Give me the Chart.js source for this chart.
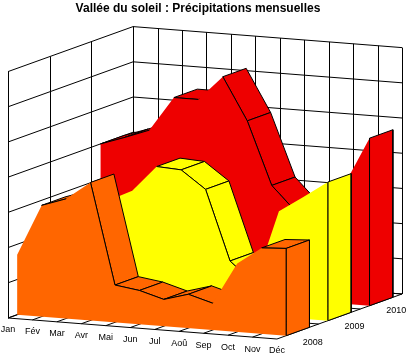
<!DOCTYPE html>
<html>
<head>
<meta charset="utf-8">
<title>Vallée du soleil</title>
<script src="https://cdn.jsdelivr.net/npm/chart.js@4"></script>
<style>
  html, body { margin: 0; padding: 0; background: #fff; }
  #box { position: relative; width: 406px; height: 355px; }
</style>
</head>
<body>
<div id="box"><canvas id="chart_area3d"></canvas></div>
<script>
// Monthly rainfall in mm, one list per year
const months = ['Jan', 'Fév', 'Mar', 'Avr', 'Mai', 'Jun', 'Jul', 'Aoû', 'Sep', 'Oct', 'Nov', 'Déc'];
const years = ['2008', '2009', '2010'];
const rain2008 = [85, 158, 170, 196, 53, 48, 38, 48, 38, 97, 122, 124];
const rain2009 = [100, 120, 146, 163, 200, 198, 173, 74, 44, 150, 173, 197];
const rain2010 = [200, 212, 225, 274, 274, 309, 249, 160, 125, 108, 171, 238];
const wallLevels = [0, 50, 100, 150, 200, 250, 300, 350];

const rainByYear = [rain2008, rain2009, rain2010];
const yearColors = ['#ff6600', '#ffff00', '#ee0000'];

// Oblique projection of (month, depth, mm) on the flat x/y scales
function project(month, depth, mm) {
  return {
    x: 8 + month * 24.45 + depth * 41.7,
    y: 318 + month * 1.91 - depth * 15 - mm * 0.704,
  };
}

function wallLine(from, to) {
  const pts = [project(from[0], from[1], from[2]), project(to[0], to[1], to[2])];
  // straight up lines look better on a whole pixel
  if (from[0] === to[0] && from[1] === to[1]) {
    pts.forEach((p) => { p.x = Math.round(p.x) + 0.5; });
  }
  return { data: pts, borderColor: '#000', borderWidth: 1, fill: false };
}

function polygon(pts, color, borderWidth) {
  return {
    data: pts.concat([pts[0]]),
    backgroundColor: color,
    borderColor: '#000',
    borderWidth: borderWidth,
    fill: 'shape',
  };
}

const lastMonth = months.length - 1;
const datasets = [];

// walls and floor
wallLevels.forEach((level) => {
  datasets.push(wallLine([0, 0, level], [0, 3, level]));
  datasets.push(wallLine([0, 3, level], [lastMonth, 3, level]));
});
[0, 1, 2, 3].forEach((d) => {
  datasets.push(wallLine([0, d, 0], [0, d, 350]));
  datasets.push(wallLine([0, d, 0], [lastMonth, d, 0]));
});
months.forEach((m, i) => {
  datasets.push(wallLine([i, 3, 0], [i, 3, 350]));
  datasets.push(wallLine([i, 0, 0], [i, 3, 0]));
});

// ribbons, back year first
for (let y = years.length - 1; y >= 0; y--) {
  const values = rainByYear[y];
  const color = yearColors[y];
  const front = y + 0.22;
  const back = y + 0.78;
  const frontEdges = [];

  for (let i = 0; i < lastMonth; i++) {
    const a = project(i, front, values[i]);
    const b = project(i + 1, front, values[i + 1]);
    const c = project(i + 1, back, values[i + 1]);
    const d = project(i, back, values[i]);
    // skip top faces turned away from the viewer
    const cross = (b.x - a.x) * (d.y - a.y) - (b.y - a.y) * (d.x - a.x);
    if (cross < 0) {
      datasets.push(polygon([a, b, c, d], color, 1));
      frontEdges.push([a, b]);
    }
  }

  // right end of the ribbon
  datasets.push(polygon([
    project(lastMonth, front, 0),
    project(lastMonth, front, values[lastMonth]),
    project(lastMonth, back, values[lastMonth]),
    project(lastMonth, back, 0),
  ], color, 1));

  // front face
  const face = [project(0, front, 0)];
  values.forEach((v, i) => face.push(project(i, front, v)));
  face.push(project(lastMonth, front, 0));
  datasets.push(polygon(face, color, 0));

  frontEdges.forEach((edge) => {
    datasets.push({ data: edge, borderColor: '#000', borderWidth: 1, fill: false });
  });
  datasets.push({
    data: [project(lastMonth, front, 0), project(lastMonth, front, values[lastMonth])],
    borderColor: '#000',
    borderWidth: 1,
    fill: false,
  });
}

// draw in the order they were pushed
datasets.forEach((ds, i) => {
  ds.order = datasets.length - i;
  ds.clip = false;
});

const axisLabels = {
  id: 'axisLabels',
  afterDraw(chart) {
    const { ctx, scales } = chart;
    ctx.save();
    ctx.fillStyle = '#000';
    ctx.font = '9px "Liberation Sans"';
    ctx.textAlign = 'center';
    ctx.textBaseline = 'middle';
    months.forEach((m, i) => {
      const p = project(i, 0, 0);
      ctx.fillText(m, scales.x.getPixelForValue(p.x), scales.y.getPixelForValue(p.y + 12));
    });
    years.forEach((yr, i) => {
      const p = project(lastMonth, i + 0.5, 0);
      ctx.fillText(yr, scales.x.getPixelForValue(p.x + 15), scales.y.getPixelForValue(p.y + 11 - i));
    });
    ctx.restore();
  },
};

new Chart(document.getElementById('chart_area3d'), {
  type: 'scatter',
  data: { datasets: datasets },
  options: {
    responsive: true,
    maintainAspectRatio: false,
    animation: false,
    layout: { padding: { right: 10 } },
    showLine: true,
    elements: { point: { radius: 0 }, line: { tension: 0, borderJoinStyle: 'miter' } },
    scales: {
      x: { type: 'linear', display: false, min: 0, max: 396 },
      y: { type: 'linear', display: false, min: 20, max: 355, reverse: true },
    },
    plugins: {
      legend: { display: false },
      tooltip: { enabled: false },
      title: {
        display: true,
        text: 'Vallée du soleil : Précipitations mensuelles',
        color: '#000',
        fullSize: false,
        font: { family: '"Liberation Sans"', size: 12, weight: 'bold' },
        padding: { top: 1, bottom: 4.6 },
      },
    },
  },
  plugins: [axisLabels],
});
</script>
</body>
</html>
